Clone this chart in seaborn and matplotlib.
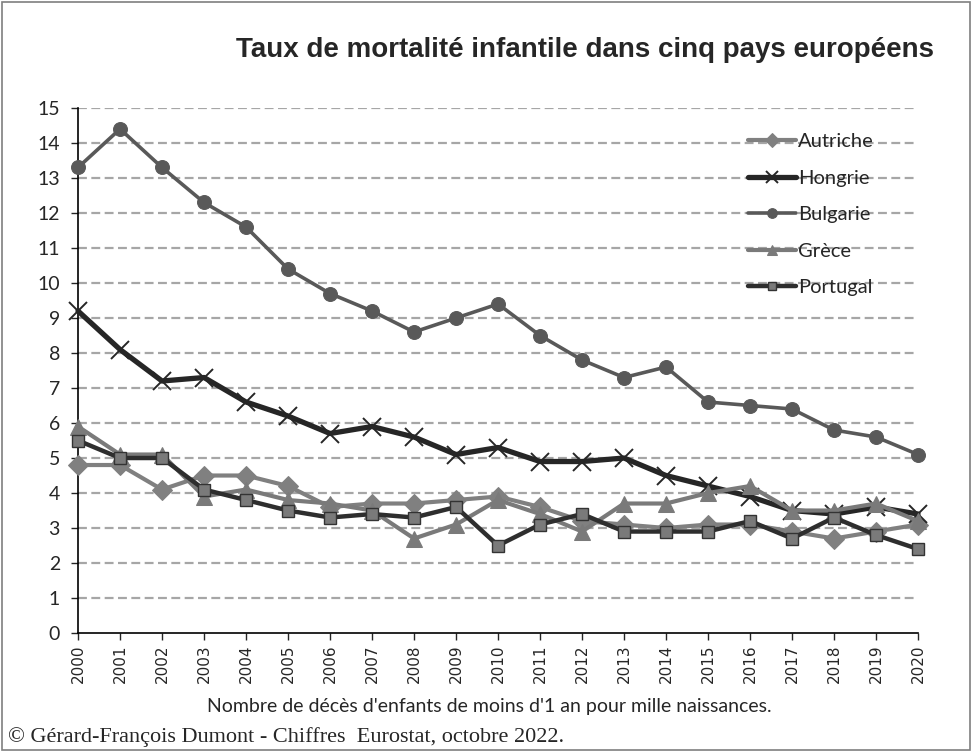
import matplotlib
matplotlib.use("Agg")
import matplotlib.pyplot as plt
import seaborn as sns
from matplotlib.patches import Rectangle

# data
years = list(range(2000, 2021))
autriche = [4.8, 4.8, 4.1, 4.5, 4.5, 4.2, 3.6, 3.7, 3.7, 3.8, 3.9, 3.6, 3.2, 3.1, 3.0, 3.1, 3.1, 2.9, 2.7, 2.9, 3.1]
hongrie = [9.2, 8.1, 7.2, 7.3, 6.6, 6.2, 5.7, 5.9, 5.6, 5.1, 5.3, 4.9, 4.9, 5.0, 4.5, 4.2, 3.9, 3.5, 3.4, 3.6, 3.4]
bulgarie = [13.3, 14.4, 13.3, 12.3, 11.6, 10.4, 9.7, 9.2, 8.6, 9.0, 9.4, 8.5, 7.8, 7.3, 7.6, 6.6, 6.5, 6.4, 5.8, 5.6, 5.1]
grece = [5.9, 5.1, 5.1, 3.9, 4.1, 3.8, 3.7, 3.5, 2.7, 3.1, 3.8, 3.4, 2.9, 3.7, 3.7, 4.0, 4.2, 3.5, 3.5, 3.7, 3.2]
portugal = [5.5, 5.0, 5.0, 4.1, 3.8, 3.5, 3.3, 3.4, 3.3, 3.6, 2.5, 3.1, 3.4, 2.9, 2.9, 2.9, 3.2, 2.7, 3.3, 2.8, 2.4]

sns.set_style("white")
plt.rcParams['font.family'] = ['Lato', 'DejaVu Sans']

fig = plt.figure(figsize=(9.73, 7.52), dpi=100)
ax = fig.add_axes([0.0802, 0.1582, 0.8633, 0.6982])

# gridlines behind lines
for v in range(1, 16):
    ax.axhline(v, color='#a6a6a6', lw=1.6, ls=(0, (4, 2)), zorder=0)

series = [
    ('Autriche', autriche, dict(color='#808080', marker='D', markersize=10, mec='#808080', lw=3.0)),
    ('Hongrie', hongrie, dict(color='#262626', marker='x', markersize=13, mec='#262626', mew=1.4, lw=3.8)),
    ('Bulgarie', bulgarie, dict(color='#595959', marker='o', markersize=10, mec='#595959', lw=2.6)),
    ('Grèce', grece, dict(color='#7a7a7a', marker='^', markersize=11, mec='#7a7a7a', lw=3.0)),
    ('Portugal', portugal, dict(color='#2e2e2e', marker='s', markersize=8,
                                markerfacecolor='#7a7a7a', mec='#333333', mew=1.0, lw=3.2)),
]
for i, (name, vals, style) in enumerate(series):
    sns.lineplot(x=years, y=vals, ax=ax, label=name, clip_on=False, zorder=3 + i, **style)

ax.set_xlim(2000, 2020)
ax.set_ylim(0, 15)
ax.set_xticks(years)
ax.set_xticklabels([str(y) for y in years], rotation=90, fontsize=11, family='DejaVu Sans')
ax.set_yticks(range(0, 16))
ax.tick_params(axis='y', labelsize=14, length=5, width=1, direction='out', left=True, pad=8)
ax.tick_params(axis='x', length=5, width=1, direction='out', bottom=True, pad=3)
for s in ['top', 'right']:
    ax.spines[s].set_visible(False)
for s in ['left', 'bottom']:
    ax.spines[s].set_color('black')
    ax.spines[s].set_linewidth(1.2)
ax.set_xlabel('')
ax.set_ylabel('')

leg = ax.legend(loc='upper left', bbox_to_anchor=(0.798, 0.952), frameon=False,
                fontsize=14.5, handlelength=2.35, handletextpad=0.1, labelspacing=0.96,
                borderpad=0, borderaxespad=0, markerscale=0.7)

fig.text(0.601, 0.933, 'Taux de mortalité infantile dans cinq pays européens',
         ha='center', va='center', fontsize=20, fontweight='bold', family='Liberation Sans')
fig.text(0.503, 0.06, "Nombre de décès d'enfants de moins d'1 an pour mille naissances.",
         ha='center', va='center', fontsize=14)
fig.text(0.008, 0.02, '© Gérard-François Dumont - Chiffres  Eurostat, octobre 2022.',
         ha='left', va='center', fontsize=16, family='Liberation Serif')

fig.patches.append(Rectangle((0.002, 0.002), 0.995, 0.995, transform=fig.transFigure,
                             fill=False, edgecolor='#7f7f7f', lw=1.2))

fig.savefig('out.png', dpi=100)
